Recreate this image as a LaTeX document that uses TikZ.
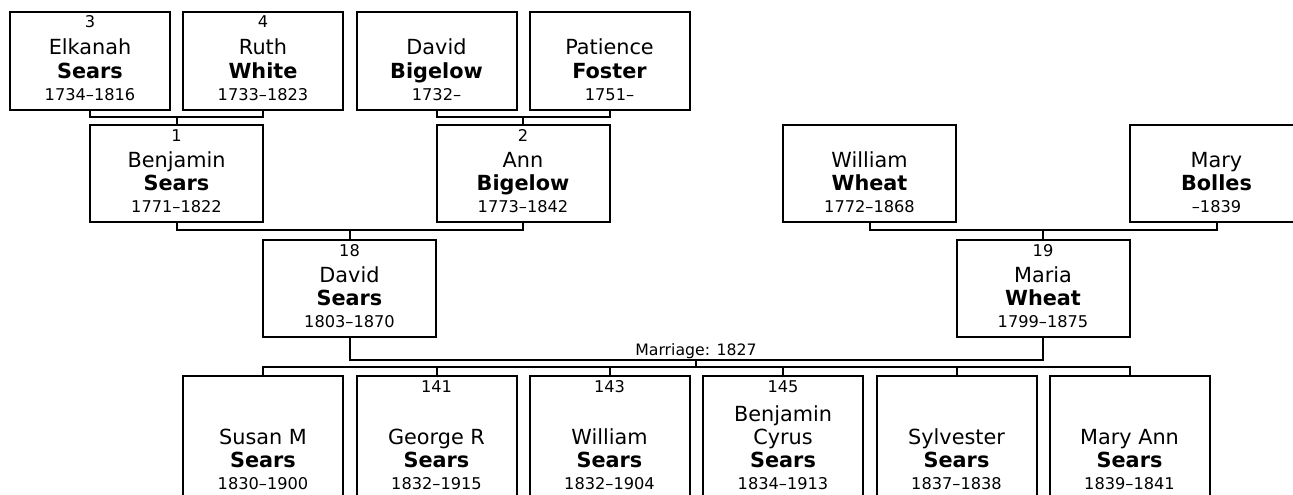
\documentclass[tikz,border=0pt]{standalone}
\usepackage{fontspec}
\setmainfont{DejaVu Sans}
\begin{document}
\begin{tikzpicture}[x=1pt,y=-1pt,
  pbox/.style={draw,line width=2pt,rectangle,inner sep=0pt,outer sep=0pt},
  conn/.style={draw,line width=2pt},
  numtxt/.style={anchor=base,inner sep=0pt,font=\fontsize{16.2}{19}\selectfont},
  nametxt/.style={anchor=base,inner sep=0pt,font=\fontsize{20.8}{24}\selectfont},
  surtxt/.style={anchor=base,inner sep=0pt,font=\fontsize{20.8}{24}\selectfont\bfseries},
  datetxt/.style={anchor=base,inner sep=0pt,font=\fontsize{16.2}{19}\selectfont},
  lbltxt/.style={anchor=base,inner sep=0pt,font=\fontsize{15.7}{18}\selectfont}]
\newcommand\person[9]{%
  \node[pbox,minimum width=#4,minimum height=#5,anchor=north] (#1) at (#2,#3) {};
  \node[numtxt] (#1n) at ([yshift=-16pt]#1.north) {#6};
  \node[nametxt] (#1g) at ([yshift=55pt]#1.south) {#7};
  \node[surtxt] (#1s) at ([yshift=32pt]#1.south) {#8};
  \node[datetxt] (#1d) at ([yshift=10pt]#1.south) {#9};
}
\useasboundingbox (0,0) rectangle (1293,495);
\clip (0,0) rectangle (1293,495);
% generation 1
\person{c3}{90}{12}{160pt}{98pt}{3}{Elkanah}{Sears}{1734–1816}
\person{c4}{263}{12}{160pt}{98pt}{4}{Ruth}{White}{1733–1823}
\person{db}{436.5}{12}{160pt}{98pt}{}{David}{Bigelow}{1732–}
\person{pf}{609.5}{12}{160pt}{98pt}{}{Patience}{Foster}{1751–}
% generation 2
\person{b1}{176.5}{125}{173pt}{97pt}{1}{Benjamin}{Sears}{1771–1822}
\person{a2}{523}{125}{173pt}{97pt}{2}{Ann}{Bigelow}{1773–1842}
\person{ww}{869.5}{125}{173pt}{97pt}{}{William}{Wheat}{1772–1868}
\person{mb}{1216.5}{125}{173pt}{97pt}{}{Mary}{Bolles}{–1839}
% generation 3
\person{ds}{349.5}{240}{173pt}{97pt}{18}{David}{Sears}{1803–1870}
\person{mw}{1043}{240}{173pt}{97pt}{19}{Maria}{Wheat}{1799–1875}
% children
\person{k1}{263}{376}{160pt}{123pt}{}{Susan M}{Sears}{1830–1900}
\person{k2}{436.5}{376}{160pt}{123pt}{141}{George R}{Sears}{1832–1915}
\person{k3}{609.5}{376}{160pt}{123pt}{143}{William}{Sears}{1832–1904}
\person{k4}{783}{376}{160pt}{123pt}{145}{Cyrus}{Sears}{1834–1913}
\node[nametxt] (k4g2) at ([yshift=78pt]k4.south) {Benjamin};
\person{k5}{956.5}{376}{160pt}{123pt}{}{Sylvester}{Sears}{1837–1838}
\person{k6}{1129.5}{376}{160pt}{123pt}{}{Mary Ann}{Sears}{1839–1841}
% junctions
\coordinate (j1) at (176.5,117);
\coordinate (j2) at (523,117);
\coordinate (j3) at (349.5,230);
\coordinate (j4) at (1043,230);
\coordinate (m) at (696,360);
\coordinate (bus) at (696,367);
% connectors
\draw[conn] (c3.south) |- (j1) -| (c4.south);
\draw[conn] (j1) -- (b1.north);
\draw[conn] (db.south) |- (j2) -| (pf.south);
\draw[conn] (j2) -- (a2.north);
\draw[conn] (b1.south) |- (j3) -| (a2.south);
\draw[conn] (j3) -- (ds.north);
\draw[conn] (ww.south) |- (j4) -| (mb.south);
\draw[conn] (j4) -- (mw.north);
\draw[conn] (ds.south) |- (m) -| (mw.south);
\node[lbltxt] (mlbl) at ([yshift=5pt]m) {Marriage: 1827};
\draw[conn] (m) -- (bus);
\draw[conn] (k1.north) |- (bus) -| (k6.north);
\foreach \k in {k2,k3,k4,k5} {\draw[conn] (\k.north) -- (\k.north |- bus);}
\end{tikzpicture}
\end{document}
